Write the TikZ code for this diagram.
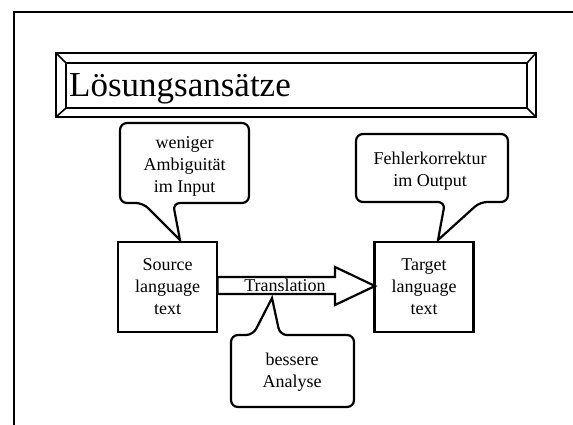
\documentclass[tikz,border=0pt]{standalone}
\usepackage{fontspec}
\setmainfont{Liberation Serif}
\newcommand\dgbody{\fontsize{18bp}{22bp}\selectfont}
\newcommand\dgtitle{\fontsize{35bp}{40bp}\selectfont}
\begin{document}
\begin{tikzpicture}[x=1bp,y=-1bp,line join=miter,
  framelw/.style={line width=2bp},
  titlelw/.style={line width=2.4bp},
  box/.style={draw,line width=2.2bp,minimum width=99bp,minimum height=90bp,inner sep=0pt,align=center,font=\dgbody},
  lbl/.style={align=center,font=\dgbody,inner sep=0pt},
  callout/.style={draw,line width=2.2bp,fill=white},
  bigarrow/.style={draw,line width=2.2bp,fill=white}]
\useasboundingbox (0,0) rectangle (573,424);
% outer frame (cut off at right and bottom)
\draw[framelw] (14,440) -- (14,12) -- (590,12);
% title plate
\draw[titlelw] (56,53) rectangle (536,117);
\draw[titlelw] (66,63) rectangle (527,108);
\draw[line width=1.6bp] (56,53) -- (66,63) (536,53) -- (527,63) (56,117) -- (66,108) (536,117) -- (527,108);
\node[anchor=base west,inner sep=0pt,font=\dgtitle] (title) at (69,96.7) {Lösungsansätze};
% boxes
\node[box] (src) at (167.5,287) {Source\\language\\text};
\node[box] (tgt) at (424,287) {Target\\language\\text};
% translation arrow
\draw[bigarrow] (217.5,277) -- (335,277) -- (335,267) -- (375,286) -- (335,305) -- (335,294) -- (217.5,294) -- cycle;
\node[lbl] (trans) at (285,285.5) {Translation};
% callouts
\draw[callout] (180,240) [rounded corners=7bp] -- (173,203) -- (249,203) -- (249,123) -- (120,123) -- (120,203) -- (143,203) [sharp corners] -- cycle;
\node[lbl] (c1) at (184.5,166) {weniger\\Ambiguität\\im Input};
\draw[callout] (438,240) [rounded corners=7bp] -- (480,202) -- (508,202) -- (508,134) -- (356,134) -- (356,202) -- (445,202) [sharp corners] -- cycle;
\node[lbl] (c2) at (430,171) {Fehlerkorrektur\\im Output};
\draw[callout] (272,298) [rounded corners=7bp] -- (280,335) -- (354,335) -- (354,407) -- (231,407) -- (231,335) -- (253,335) [sharp corners] -- cycle;
\node[lbl] (c3) at (292,372.5) {bessere\\Analyse};
\end{tikzpicture}
\end{document}
